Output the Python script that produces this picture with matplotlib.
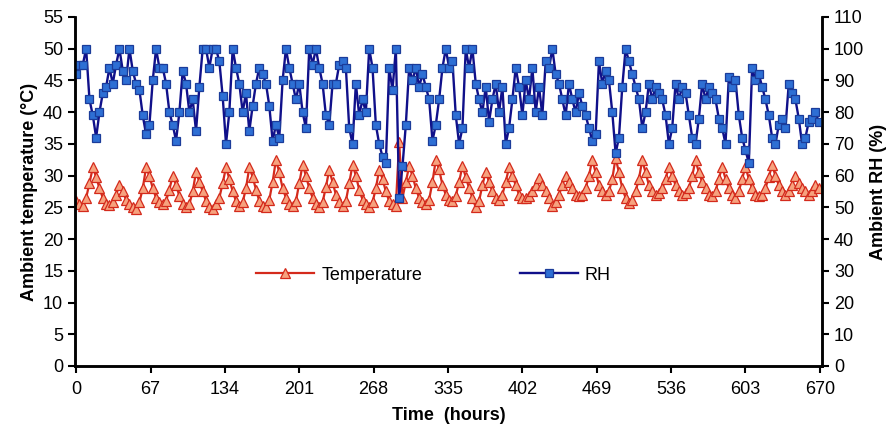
import numpy as np
import matplotlib
matplotlib.use('Agg')
import matplotlib.pyplot as plt

plt.rcParams['font.family'] = ['Liberation Sans', 'DejaVu Sans']

# readings every 3 hours, t = 0 .. 669
step_h = 3

temperature = [
    26.0, 25.5, 25.2, 26.5, 28.8, 31.3,
    29.8, 28.0, 26.5, 25.5, 25.3, 25.8, 27.0, 28.5,
    27.5, 26.2, 25.5, 25.0, 24.8, 25.8, 28.0, 31.3,
    30.0, 28.0, 26.5, 25.8, 25.5, 26.0, 27.8, 30.0,
    28.5, 26.8, 25.5, 25.0, 25.5, 27.5, 30.6,
    29.0, 27.5, 26.0, 25.0, 24.8, 25.5, 26.5, 28.8, 31.3,
    29.5, 27.5, 26.0, 25.2, 25.8, 28.0, 31.3,
    29.8, 27.8, 26.0, 25.2, 25.0, 26.2, 29.0, 32.5,
    30.5, 28.0, 26.5, 25.5, 25.2, 26.0, 28.8, 31.7,
    30.0, 28.0, 26.5, 25.5, 25.0, 25.8, 28.2, 30.9,
    29.0, 27.0, 25.8, 25.2, 26.0, 28.8, 31.7,
    30.0, 27.8, 26.2, 25.5, 25.0, 25.8, 28.0, 30.9,
    29.5, 27.5, 26.0, 25.5, 25.2, 35.3, 26.5, 29.0, 31.5,
    30.0, 28.0, 26.5, 25.8, 25.5, 26.2, 29.0, 32.5,
    31.0, 28.5, 27.0, 26.2, 26.0, 26.8, 29.0, 31.5,
    29.8, 28.0, 26.5, 25.0, 26.0, 28.5, 30.6,
    29.0, 27.5, 26.5, 26.2, 27.0, 29.0, 31.3,
    30.0, 28.5, 27.0, 26.5, 26.5, 26.8, 27.5, 28.5, 29.6,
    28.5, 27.5, 26.5, 25.2, 25.8, 27.0, 28.5, 30.0,
    29.0, 28.0, 27.0, 26.8, 27.0, 28.0, 30.0, 32.5,
    30.5, 28.5, 27.5, 27.0, 27.5, 29.5, 32.8,
    30.5, 28.0, 26.5, 25.7, 26.2, 27.5, 29.5, 32.4,
    30.5, 28.5, 27.5, 27.0, 27.2, 28.0, 29.5, 31.4,
    30.0, 28.5, 27.5, 27.0, 27.2, 28.0, 30.0, 32.4,
    30.5, 29.0, 28.0, 27.0, 26.8, 27.5, 29.5, 31.4,
    29.5, 28.0, 27.0, 26.5, 27.5, 29.5, 31.4,
    29.5, 28.0, 27.0, 26.8, 27.0, 28.0, 29.8, 31.6,
    30.0, 28.5, 27.5, 27.0, 27.5, 28.5, 29.9,
    28.8, 28.0, 27.5, 27.0, 27.5, 28.5, 28.0,
]

rh = [
    92, 95, 95, 100, 84, 79, 72, 80, 86, 88, 94, 89, 95, 100, 93, 90,
    100, 93, 89, 87, 79, 73, 76, 90, 100, 94, 94, 89, 80, 76, 71, 80,
    93, 89, 80, 84, 74, 88, 100, 100, 94, 100, 100, 96, 85, 70, 80, 100,
    94, 89, 80, 86, 74, 82, 89, 94, 92, 89, 82, 71, 76, 72, 90, 100,
    94, 89, 84, 89, 80, 75, 100, 95, 100, 94, 89, 79, 76, 89, 89, 95,
    96, 94, 75, 70, 89, 79, 84, 80, 100, 94, 76, 70, 66, 64, 94, 87,
    100, 53, 63, 76, 94, 90, 94, 88, 92, 88, 84, 71, 76, 84, 94, 100,
    94, 96, 79, 70, 75, 100, 94, 100, 89, 84, 80, 88, 77, 84, 89, 80,
    88, 70, 75, 84, 94, 88, 79, 90, 84, 94, 80, 88, 79, 96, 94, 100,
    92, 89, 84, 79, 89, 84, 80, 86, 82, 79, 75, 71, 73, 96, 89, 93,
    90, 80, 67, 72, 88, 100, 96, 92, 88, 84, 75, 80, 89, 84, 88, 86,
    84, 79, 70, 75, 89, 84, 88, 86, 79, 72, 70, 78, 89, 84, 88, 86,
    84, 78, 75, 70, 91, 88, 90, 79, 72, 68, 64, 94, 90, 92, 88, 84,
    79, 72, 70, 76, 78, 75, 89, 86, 84, 78, 70, 72, 77, 78, 80, 77,
]

hours = np.arange(len(temperature)) * step_h
x_ticks = list(range(0, 671, 67))

fig = plt.figure(figsize=(8.87, 4.29), dpi=100)
ax = fig.add_axes([0.0846, 0.1469, 0.8422, 0.8135])
ax2 = ax.twinx()

l1, = ax.plot(hours, temperature, color='#d42a1c', lw=1.6, marker='^',
              ms=7.5, mfc='#f6a27e', mec='#d42a1c', mew=0.9, label='Temperature')
l2, = ax2.plot(hours, rh, color='#10108a', lw=1.7, marker='s',
               ms=6, mfc='#2e6fd4', mec='#1b3c9a', mew=0.9, label='RH')

ax.set_xlim(-1, 672)
ax.set_ylim(0, 55)
ax2.set_ylim(0, 110)
ax.set_xticks(x_ticks)
ax.set_yticks(range(0, 56, 5))
ax2.set_yticks(range(0, 111, 10))

for a in (ax, ax2):
    a.spines['top'].set_visible(False)
    for s in ('left', 'right', 'bottom'):
        a.spines[s].set_linewidth(1.8)
    a.tick_params(direction='out', length=5, width=1.5, labelsize=13)
ax.tick_params(axis='x', pad=6)

ax.set_xlabel('Time  (hours)', fontsize=13, fontweight='bold', labelpad=6)
ax.set_ylabel('Ambient temperature (°C)', fontsize=13, fontweight='bold')
ax2.set_ylabel('Ambient RH (%)', fontsize=13, fontweight='bold')

ax2.legend([l1, l2], ['Temperature', 'RH'], loc='center', ncol=2,
           bbox_to_anchor=(0.48, 0.26), frameon=False, fontsize=13,
           handlelength=3.2, handletextpad=0.4, columnspacing=5.4)

fig.savefig('out.png', dpi=100)
